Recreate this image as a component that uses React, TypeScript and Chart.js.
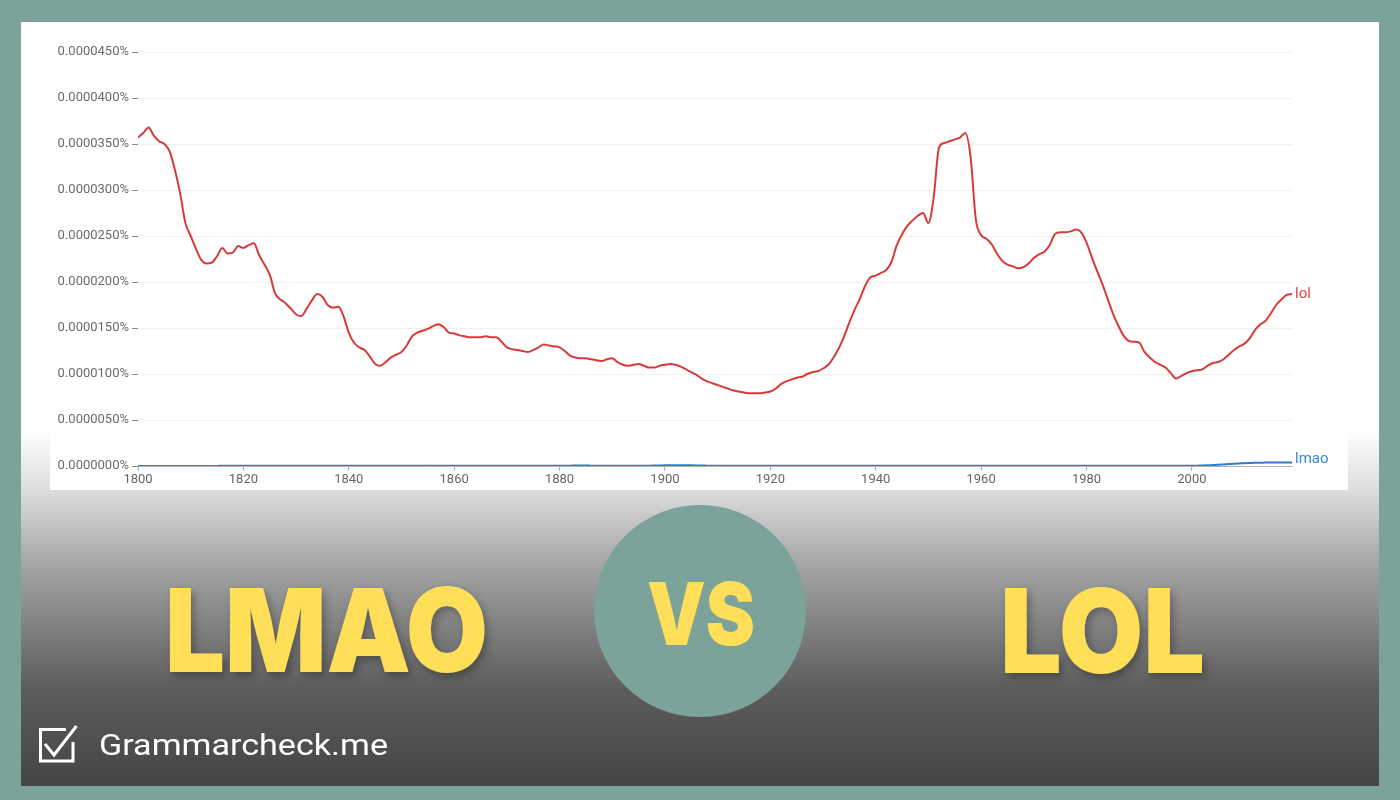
import React, { useEffect, useRef } from "react";
import { Chart, registerables } from "chart.js";

Chart.register(...registerables);

// Values are in units of 1e-7 percent (e.g. 357 => 0.0000357%)
const years: number[] = Array.from({ length: 220 }, (_, i) => 1800 + i);

const lolValues: number[] = [
  357, 362, 368, 359, 353, 350, 342, 322, 296, 264,
  250, 236, 224, 220, 221, 228, 237, 231, 232, 239,
  237, 240, 242, 229, 219, 208, 188, 181, 177, 171,
  165, 163, 171, 180, 187, 184, 175, 172, 173, 163,
  145, 134, 129, 126, 119, 111, 109, 113, 118, 121,
  124, 131, 141, 145, 147, 149, 152, 154, 151, 145,
  144, 142, 141, 140, 140, 140, 141, 140, 140, 135,
  129, 127, 126, 125, 124, 126, 129, 132, 131, 130,
  129, 125, 120, 118, 117, 117, 116, 115, 114, 116,
  117, 113, 110, 109, 110, 111, 109, 107, 107, 109,
  110, 111, 110, 108, 105, 102, 99, 95, 92, 90,
  88, 86, 84, 82, 81, 80, 79, 79, 79, 80,
  81, 84, 89, 92, 94, 96, 97, 100, 102, 103,
  106, 110, 118, 128, 141, 156, 170, 182, 196, 205,
  207, 210, 213, 222, 240, 252, 261, 267, 272, 275,
  264, 292, 346, 351, 353, 355, 357, 362, 336, 268,
  251, 247, 241, 231, 223, 219, 217, 215, 216, 220,
  226, 230, 233, 240, 252, 254, 254, 255, 257, 254,
  243, 227, 212, 198, 182, 166, 153, 142, 136, 135,
  134, 124, 118, 113, 110, 107, 101, 95, 98, 101,
  103, 104, 105, 109, 112, 113, 116, 121, 126, 130,
  133, 139, 148, 154, 158, 166, 175, 181, 186, 187,
];

const lmaoValues: number[] = [
  0.1, 0.1, 0.1, 0.1, 0.1, 0.1, 0.1, 0.1, 0.1, 0.1,
  0.1, 0.1, 0.1, 0.1, 0.1, 0.1, 0.2, 0.2, 0.2, 0.2,
  0.2, 0.2, 0.2, 0.2, 0.2, 0.2, 0.2, 0.2, 0.2, 0.2,
  0.2, 0.2, 0.2, 0.2, 0.2, 0.2, 0.2, 0.2, 0.2, 0.2,
  0.2, 0.2, 0.2, 0.2, 0.2, 0.2, 0.2, 0.2, 0.2, 0.2,
  0.2, 0.2, 0.2, 0.2, 0.2, 0.2, 0.2, 0.2, 0.2, 0.2,
  0.2, 0.2, 0.2, 0.2, 0.2, 0.2, 0.2, 0.2, 0.2, 0.2,
  0.2, 0.2, 0.2, 0.2, 0.3, 0.3, 0.3, 0.3, 0.3, 0.4,
  0.4, 0.4, 0.4, 0.5, 0.5, 0.5, 0.4, 0.4, 0.4, 0.3,
  0.3, 0.3, 0.3, 0.3, 0.3, 0.3, 0.4, 0.4, 0.5, 0.6,
  0.7, 0.8, 0.8, 0.8, 0.8, 0.7, 0.6, 0.5, 0.4, 0.3,
  0.3, 0.3, 0.2, 0.2, 0.2, 0.2, 0.2, 0.2, 0.2, 0.2,
  0.2, 0.2, 0.2, 0.2, 0.2, 0.2, 0.2, 0.2, 0.2, 0.2,
  0.2, 0.2, 0.2, 0.2, 0.2, 0.2, 0.2, 0.2, 0.2, 0.2,
  0.2, 0.2, 0.2, 0.2, 0.2, 0.2, 0.2, 0.2, 0.2, 0.2,
  0.2, 0.2, 0.2, 0.2, 0.2, 0.2, 0.2, 0.2, 0.2, 0.2,
  0.2, 0.2, 0.2, 0.2, 0.2, 0.2, 0.2, 0.2, 0.2, 0.2,
  0.2, 0.2, 0.2, 0.2, 0.2, 0.2, 0.2, 0.2, 0.2, 0.2,
  0.2, 0.2, 0.2, 0.2, 0.2, 0.2, 0.2, 0.3, 0.3, 0.3,
  0.3, 0.3, 0.3, 0.3, 0.3, 0.3, 0.3, 0.3, 0.3, 0.3,
  0.3, 0.4, 0.5, 0.7, 1.0, 1.3, 1.7, 2.1, 2.5, 2.8,
  3.1, 3.3, 3.5, 3.6, 3.7, 3.8, 3.8, 3.8, 3.7, 3.7,
];

const seriesNames: string[] = ["lol", "lmao"];
const yTickStep = 50; // 0.0000050%
const yMax = 450; // 0.0000450%
const xTickStep = 20;

const endLabelPlugin = {
  id: "endLabels",
  afterDatasetsDraw(chart: any) {
    const ctx = chart.ctx;
    chart.data.datasets.forEach((ds: any, i: number) => {
      const meta = chart.getDatasetMeta(i);
      const pt = meta.data[meta.data.length - 1];
      if (!pt) return;
      ctx.save();
      ctx.font = "15px Roboto";
      ctx.fillStyle = ds.labelColor;
      ctx.textBaseline = "middle";
      ctx.textAlign = "left";
      ctx.fillText(ds.label, pt.x + 3, pt.y - (i === 1 ? 3 : 0));
      ctx.restore();
    });
  },
};

function NgramChart() {
  const ref = useRef<HTMLCanvasElement | null>(null);
  useEffect(() => {
    if (!ref.current) return;
    const chart = new Chart(ref.current, {
      type: "line",
      data: {
        datasets: [
          {
            label: seriesNames[0],
            data: years.map((y, i) => ({ x: y, y: lolValues[i] })),
            borderColor: "#d83a3a",
            labelColor: "#dc4444",
            borderWidth: 2,
            pointRadius: 0,
            cubicInterpolationMode: "monotone",
            fill: false,
          } as any,
          {
            label: seriesNames[1],
            data: years.map((y, i) => ({ x: y, y: lmaoValues[i] })),
            borderColor: "#2f7cd6",
            labelColor: "#3b86da",
            borderWidth: 2,
            pointRadius: 0,
            cubicInterpolationMode: "monotone",
            fill: false,
          } as any,
        ],
      },
      options: {
        responsive: false,
        animation: false,
        events: [],
        layout: { padding: { top: 30, right: 56, left: 0, bottom: 0 } },
        plugins: { legend: { display: false }, tooltip: { enabled: false } },
        scales: {
          x: {
            type: "linear",
            min: years[0],
            max: years[years.length - 1],
            afterFit(scale: any) {
              scale.height = 24;
            },
            border: { display: true, color: "#b0b0b0", width: 1 },
            grid: {
              drawOnChartArea: false,
              drawTicks: true,
              tickLength: 5,
              tickColor: "#b0b0b0",
            },
            ticks: {
              stepSize: xTickStep,
              includeBounds: false,
              maxRotation: 0,
              padding: 1,
              color: "#666",
              font: { family: "Roboto", size: 13 },
              callback: (v: any) => String(v),
            },
          },
          y: {
            min: 0,
            max: yMax,
            afterFit(scale: any) {
              scale.width = 88;
            },
            border: { display: false },
            grid: {
              color: "#f0f0f0",
              drawTicks: true,
              tickLength: 6,
              tickColor: "#8a8a8a",
            },
            ticks: {
              stepSize: yTickStep,
              padding: 3,
              color: "#6b6b6b",
              font: { family: "Roboto", size: 13 },
              callback: (v: any) => (Number(v) / 1e7).toFixed(7) + "%",
            },
          },
        },
      } as any,
      plugins: [endLabelPlugin],
    });
    return () => chart.destroy();
  }, []);
  return <canvas ref={ref} width={1298} height={468} style={{ display: "block" }} />;
}

export default function App() {
  const yellow = "#FFDE59";
  return (
    <div
      style={{
        position: "absolute",
        left: 0,
        top: 0,
        width: 1400,
        height: 800,
        background: "#7BA39A",
        overflow: "hidden",
      }}
    >
      <div
        style={{
          position: "absolute",
          left: 21,
          top: 22,
          width: 1358,
          height: 764,
          background:
            "linear-gradient(to bottom, #ffffff 0px, #ffffff 408px, #dddddd 468px, #a8a8a8 538px, #5c5c5c 668px, #454545 764px)",
        }}
      />
      <div
        style={{
          position: "absolute",
          left: 50,
          top: 22,
          width: 1298,
          height: 468,
          background: "#ffffff",
        }}
      >
        <NgramChart />
      </div>
      <svg
        width={1400}
        height={800}
        style={{ position: "absolute", left: 0, top: 0, pointerEvents: "none" }}
      >
        <defs>
          <filter id="sh" x="-10%" y="-10%" width="130%" height="140%">
            <feDropShadow dx="3" dy="4" stdDeviation="4" floodColor="#000" floodOpacity="0.3" />
          </filter>
        </defs>
        <text
          x={165}
          y={672}
          textLength={323}
          lengthAdjust="spacingAndGlyphs"
          fontFamily="Inter, 'Open Sans', sans-serif"
          fontWeight={900}
          fontSize={116}
          fill={yellow}
          filter="url(#sh)"
        >
          LMAO
        </text>
        <circle cx={700} cy={611} r={106} fill="#7BA39A" />
        <text
          x={647}
          y={645}
          textLength={108}
          lengthAdjust="spacingAndGlyphs"
          fontFamily="Inter, 'Open Sans', sans-serif"
          fontWeight={900}
          fontSize={87}
          fill={yellow}
        >
          VS
        </text>
        <text
          x={1000}
          y={673}
          textLength={205}
          lengthAdjust="spacingAndGlyphs"
          fontFamily="Inter, 'Open Sans', sans-serif"
          fontWeight={900}
          fontSize={117}
          fill={yellow}
          filter="url(#sh)"
        >
          LOL
        </text>
        <g fill="none" stroke="#ffffff" strokeWidth={3}>
          <polyline points="66,729.5 40.5,729.5 40.5,761 73,761 73,742" />
          <polyline points="45,744 54,755 76.5,726" />
        </g>
        <text
          x={99}
          y={755}
          textLength={289}
          lengthAdjust="spacingAndGlyphs"
          fontFamily="Roboto, sans-serif"
          fontWeight={400}
          fontSize={30}
          fill="#ffffff"
        >
          Grammarcheck.me
        </text>
      </svg>
    </div>
  );
}
